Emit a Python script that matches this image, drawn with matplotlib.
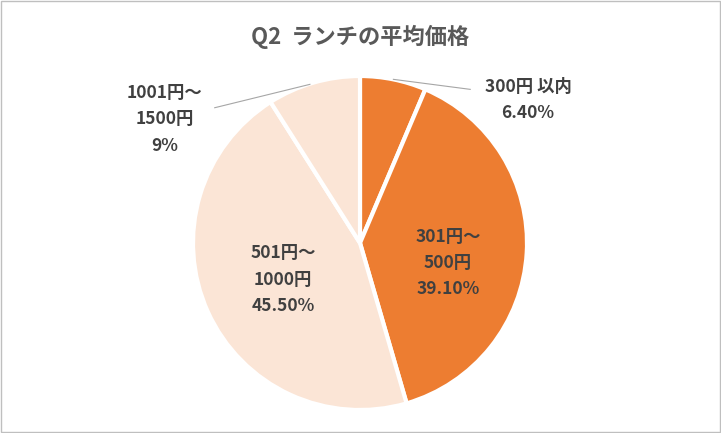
import matplotlib
matplotlib.use("Agg")
import matplotlib.pyplot as plt
from matplotlib.patches import Rectangle

plt.rcParams["font.family"] = "Noto Sans CJK JP"

labels = ["300円 以内", "301円～\n500円", "501円～\n1000円", "1001円～\n1500円"]
pct_text = ["6.40%", "39.10%", "45.50%", "9%"]
values = [6.4, 39.1, 45.5, 9.0]
colors = ["#ED7D31", "#ED7D31", "#FBE5D6", "#FBE5D6"]

fig = plt.figure(figsize=(7.21, 4.33), dpi=100)
fig.patches.append(Rectangle((0.001, 0.002), 0.997, 0.995, transform=fig.transFigure,
                             fill=False, edgecolor="#BFBFBF", linewidth=1))
ax = fig.add_axes([(360 - 167) / 721, (190 - 167) / 433, 334 / 721, 334 / 433])
ax.pie(values, colors=colors, startangle=90, counterclock=False, radius=1,
       wedgeprops=dict(edgecolor="white", linewidth=3))
ax.set_xlim(-1, 1); ax.set_ylim(-1, 1); ax.set_aspect("equal")
ax.axis("off")

tc = "#404040"
kw = dict(ha="center", va="center", fontsize=12.5, fontweight="bold", color=tc,
          linespacing=1.6, clip_on=False)
ax.text(1.006, 0.856, labels[0] + "\n" + pct_text[0], **kw)
ax.text(0.527, -0.12, labels[1] + "\n" + pct_text[1], **kw)
ax.text(-0.46, -0.22, labels[2] + "\n" + pct_text[2], **kw)
ax.text(-1.17, 0.74, labels[3] + "\n" + pct_text[3], **kw)
ax.plot([0.2, 0.66], [0.98, 0.92], color="#A6A6A6", lw=0.8, clip_on=False)
ax.plot([-0.87, -0.3], [0.81, 0.95], color="#A6A6A6", lw=0.8, clip_on=False)

fig.text(0.5, 1 - 37 / 433, "Q2  ランチの平均価格", ha="center", va="center",
         fontsize=16, fontweight="bold", color="#595959")
fig.savefig("out.png", dpi=100)
